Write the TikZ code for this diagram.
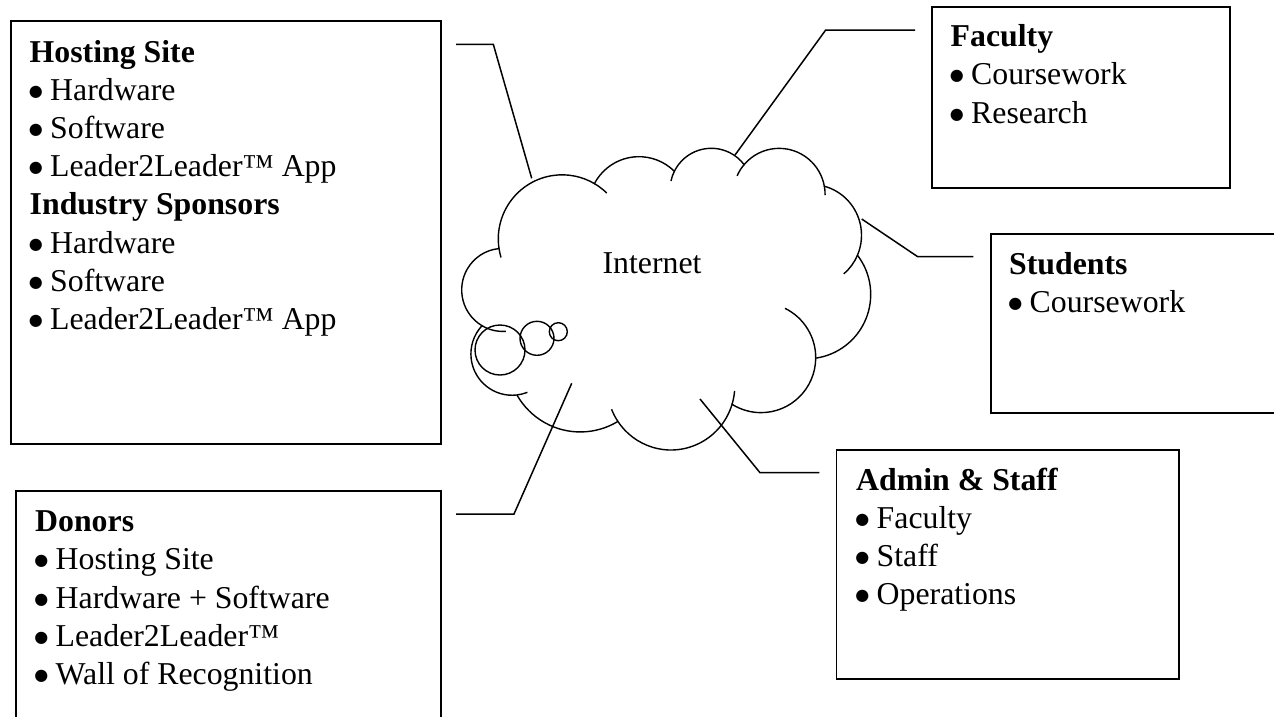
\documentclass[tikz,border=0pt]{standalone}
\usepackage{fontspec}
\setmainfont{Liberation Serif}
\newfontfamily\symfont{DejaVu Sans}
\newcommand\lbul{\makebox[20.5pt][l]{\hspace*{-0.8pt}\raisebox{4pt}{\symfont\fontsize{16pt}{16pt}\selectfont ●}}}
\begin{document}
\begin{tikzpicture}[x=1pt,y=-1pt,
  box/.style={draw, line width=1.8pt, inner sep=0pt, anchor=north west},
  txt/.style={anchor=base west, inner sep=0pt, font=\fontsize{31.8pt}{38.2pt}\selectfont},
  link/.style={line width=1.5pt, line join=miter},
  cloudline/.style={line width=1.4pt},
]
\path[use as bounding box] (0,0) rectangle (1274,716);
\clip (0,0) rectangle (1274,716);

% boxes
\node[box, minimum width=430pt, minimum height=423pt] (host) at (10,20) {};
\node[box, minimum width=425pt, minimum height=270pt] (donor) at (15,490) {};
\node[box, minimum width=298pt, minimum height=181pt] (fac) at (931,6) {};
\node[box, minimum width=330pt, minimum height=179pt] (stud) at (990,233) {};
\node[box, minimum width=342.8pt, minimum height=229pt] (admin) at (835.5,449.3) {};

% texts
\node[txt] (hosttxt) at (29.5,62) {\parbox[t]{400pt}{\textbf{Hosting Site}\\\lbul Hardware\\\lbul Software\\\lbul Leader2Leader™ App\\\textbf{Industry Sponsors}\\\lbul Hardware\\\lbul Software\\\lbul Leader2Leader™ App}};
\node[txt] (donortxt) at (35,531.7) {\parbox[t]{390pt}{\textbf{Donors}\\\lbul Hosting Site\\\lbul Hardware + Software\\\lbul Leader2Leader™\\\lbul Wall of Recognition}};
\node[txt] (factxt) at (950.5,46.7) {\parbox[t]{270pt}{\textbf{Faculty}\\\lbul Coursework\\\lbul Research}};
\node[txt] (studtxt) at (1009,274) {\parbox[t]{250pt}{\textbf{Students}\\\lbul Coursework}};
\node[txt] (admintxt) at (856,490) {\parbox[t]{310pt}{\textbf{Admin \& Staff}\\\lbul Faculty\\\lbul Staff\\\lbul Operations}};

% cloud
\begin{scope}[shift={(462,147.3)}, xscale=0.9456, yscale=0.6981, cloudline]
\draw (39.00,143.70)
 arc[start angle=172.254, end angle=300.36, x radius=67.53, y radius=91.90]
 arc[start angle=-152.04, end angle=-45.43, x radius=53.33, y radius=72.67]
 arc[start angle=-153.49, end angle=-37.33, x radius=43.65, y radius=59.45]
 arc[start angle=-139.71, end angle=-10.211, x radius=48.57, y radius=65.95]
 arc[start angle=-74.77, end angle=23.21, x radius=53.33, y radius=72.73]
 arc[start angle=-37.53, end angle=81.86, x radius=67.75, y radius=92.20]
 arc[start angle=0.4596, end angle=121.97, x radius=57.85, y radius=78.67]
 arc[start angle=16.845, end angle=146.22, x radius=67.52, y radius=92.15]
 arc[start angle=58.98, end angle=150.17, x radius=77.20, y radius=105.43]
 arc[start angle=83.31, end angle=223.08, x radius=43.60, y radius=59.18]
 arc[start angle=120.36, end angle=264.11, x radius=43.45, y radius=59.45]
 -- cycle;
% wrinkles
\draw (46.488,263.563) arc[start angle=85.55, end angle=120.36, x radius=43.45, y radius=59.45];
\draw (69.181,350.948) arc[start angle=68.24, end angle=83.31, x radius=43.60, y radius=59.18];
\draw (164.847,392.668) arc[start angle=146.22, end angle=158.47, x radius=67.52, y radius=92.15];
\draw (288.260,349.046) arc[start angle=4.738, end angle=16.845, x radius=67.52, y radius=92.15];
\draw (341.557,230.673) arc[start angle=-64.03, end angle=0.46, x radius=57.85, y radius=78.67];
\draw (418.208,154.592) arc[start angle=23.21, end angle=49.64, x radius=53.33, y radius=72.73];
\draw (383.204,55.752) arc[start angle=-10.21, end angle=0.82, x radius=48.57, y radius=65.95];
\draw (290.933,40.926) arc[start angle=-156.29, end angle=-139.71, x radius=48.57, y radius=65.95];
\draw (220.988,48.206) arc[start angle=-167.72, end angle=-153.49, x radius=43.65, y radius=59.45];
\draw (140.045,52.016) arc[start angle=-59.64, end angle=-45.74, x radius=67.53, y radius=91.90];
\draw (41.268,157.891) arc[start angle=163.19, end angle=172.25, x radius=67.53, y radius=91.90];
\end{scope}
% callout tail circles
\draw[cloudline] (500,350) circle[radius=25pt];
\draw[cloudline] (537,338.3) circle[radius=17pt];
\draw[cloudline] (558.3,331.7) circle[radius=9pt];
\node[txt, anchor=base] (inet) at (652,273.3) {Internet};

% connectors
\coordinate (h1) at (456,44.3); \coordinate (h2) at (493.3,44.3); \coordinate (h3) at (531.7,178.3);
\draw[link] (h1) -- (h2) -- (h3);
\coordinate (f1) at (915,30); \coordinate (f2) at (825.7,30); \coordinate (f3) at (735,155);
\draw[link] (f1) -- (f2) -- (f3);
\coordinate (s1) at (973.3,256.7); \coordinate (s2) at (917.7,256.7); \coordinate (s3) at (861.7,219);
\draw[link] (s1) -- (s2) -- (s3);
\coordinate (a1) at (819.3,472.7); \coordinate (a2) at (760,472.7); \coordinate (a3) at (700,399);
\draw[link] (a1) -- (a2) -- (a3);
\coordinate (d1) at (456,514); \coordinate (d2) at (514,514); \coordinate (d3) at (571.7,383.3);
\draw[link] (d1) -- (d2) -- (d3);
\end{tikzpicture}
\end{document}
